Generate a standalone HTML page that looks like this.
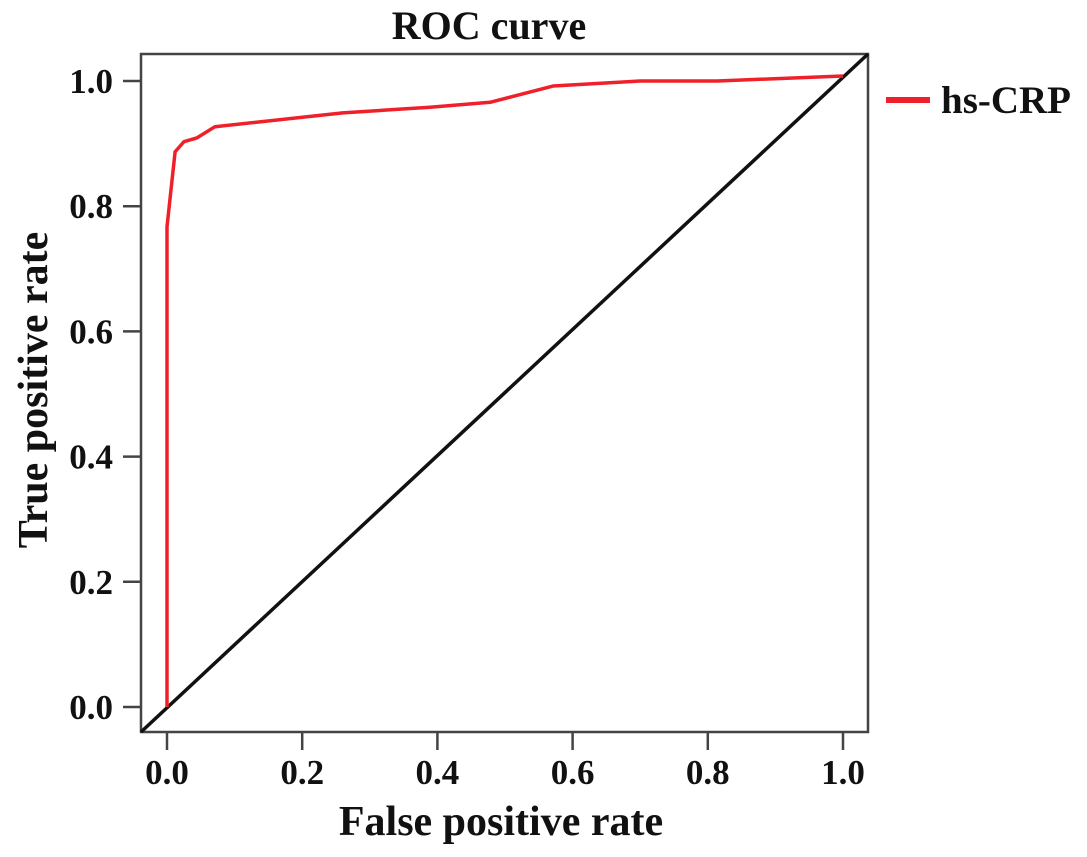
<!DOCTYPE html>
<html><head><meta charset="utf-8"><style>
html,body{margin:0;padding:0;background:#fff}
svg{display:block}
text{font-family:"Liberation Serif",serif;font-weight:bold;fill:#111}
</style></head><body>
<svg width="1087" height="857" viewBox="0 0 1087 857">
<g id="chart"></g>
</svg>
<script>
const fprValues=[0,0,0.012,0.025,0.044,0.071,0.26,0.345,0.389,0.478,0.571,0.70,0.814,1.0];
const tprValues=[0,0.767,0.887,0.903,0.909,0.927,0.949,0.955,0.958,0.966,0.992,1.0,1.0,1.008];
const xTicks=[0,0.2,0.4,0.6,0.8,1.0];
const yTicks=[0,0.2,0.4,0.6,0.8,1.0];
const xTickLabels=["0.0","0.2","0.4","0.6","0.8","1.0"];
const yTickLabels=["0.0","0.2","0.4","0.6","0.8","1.0"];
const seriesName="hs-CRP";

const NS="http://www.w3.org/2000/svg";
const g=document.getElementById('chart');
const box={l:141,t:54,r:868,b:732};
function X(v){return 167+v*676;}
function Y(v){return 707-v*626;}
function mk(tag,attrs,parent){const e=document.createElementNS(NS,tag);for(const k in attrs)e.setAttribute(k,attrs[k]);(parent||g).appendChild(e);return e;}

let t=mk('text',{x:489,y:39,'font-size':40,'text-anchor':'middle'});


t.textContent='ROC curve';

let frame=mk('rect',{x:box.l,y:box.t,width:box.r-box.l,height:box.b-box.t,fill:'none',stroke:'#444','stroke-width':2.5});



xTicks.forEach((v,i)=>{
  let tk=mk('line',{x1:X(v),x2:X(v),y1:box.b,y2:box.b+18,stroke:'#444','stroke-width':2.5});
  
  
  let lb=mk('text',{x:X(v),y:784,'font-size':35,'text-anchor':'middle'});
  
  
  lb.textContent=xTickLabels[i];
});
yTicks.forEach((v,i)=>{
  let tk=mk('line',{x1:box.l-18,x2:box.l,y1:Y(v),y2:Y(v),stroke:'#444','stroke-width':2.5});
  
  
  let lb=mk('text',{x:113,y:Y(v)+12,'font-size':35,'text-anchor':'end'});
  
  
  lb.textContent=yTickLabels[i];
});

let diag=mk('line',{x1:box.l,y1:box.b,x2:box.r,y2:box.t,stroke:'#111','stroke-width':3.5});



let pts=fprValues.map((f,i)=>X(f)+','+Y(tprValues[i])).join(' ');
let curve=mk('polyline',{points:pts,fill:'none',stroke:'#f0202a','stroke-width':3.5,'stroke-linejoin':'round'});



let ll=mk('line',{x1:886,x2:930,y1:100,y2:100,stroke:'#f0202a','stroke-width':6});


let lt=mk('text',{x:941,y:113,'font-size':39});


lt.textContent=seriesName;

let xt=mk('text',{x:501,y:835,'font-size':42,'text-anchor':'middle'});


xt.textContent='False positive rate';
let yt=mk('text',{x:0,y:0,'font-size':42,'text-anchor':'middle',transform:'translate(47,390) rotate(-90)'});


yt.textContent='True positive rate';
</script>
</body></html>
